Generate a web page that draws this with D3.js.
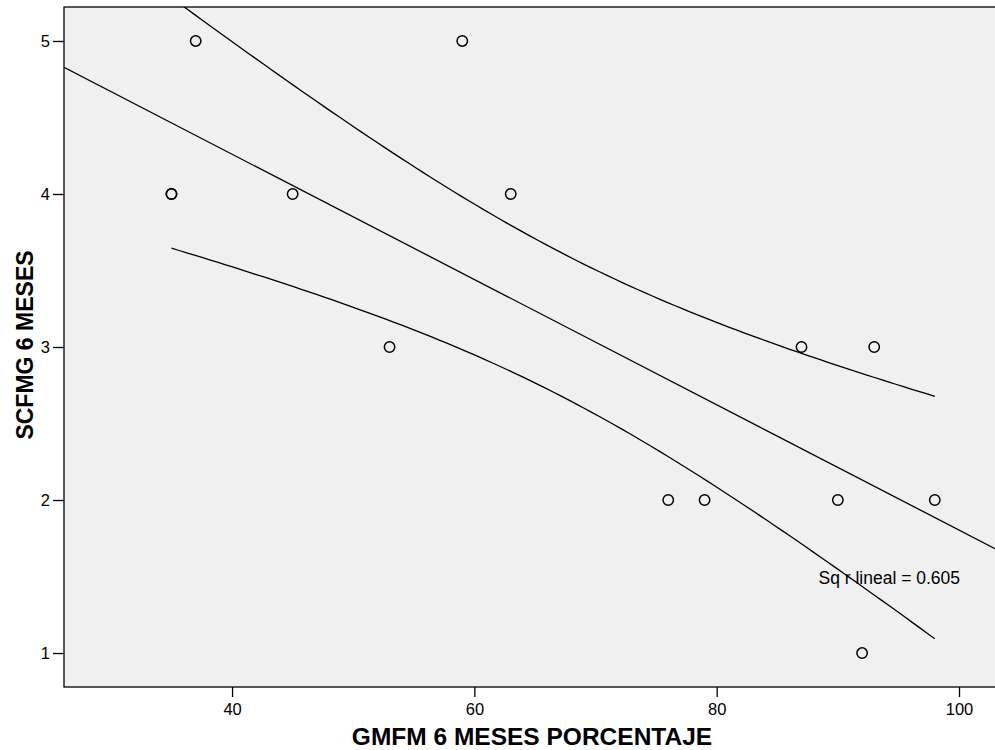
<!DOCTYPE html>
<html>
<head>
<meta charset="utf-8">
<script src="https://cdn.jsdelivr.net/npm/d3@7"></script>
<style>
  body { margin: 0; background: #fff; }
  svg { display: block; font-family: "Liberation Sans", Arial, sans-serif; }
</style>
</head>
<body>
<svg id="chart"></svg>
<script>
// GMFM 6 meses (%) vs SCFMG 6 meses
const gmfm  = [37, 59, 35, 35, 45, 63, 53, 87, 93, 76, 79, 90, 98, 92];
const scfmg = [5, 5, 4, 4, 4, 4, 3, 3, 3, 2, 2, 2, 2, 1];
const xTicks = [40, 60, 80, 100];
const yTicks = [1, 2, 3, 4, 5];
const tCrit = 2.179; // t(0.975, 12)

const width = 995;
const height = 750;
const margin = {top: 7, right: 0, bottom: 63, left: 64};

const svg = d3.select("#chart")
    .attr("width", width)
    .attr("height", height);

const x = d3.scaleLinear()
    .domain([26.13, 102.97])
    .range([margin.left, width - margin.right]);

const y = d3.scaleLinear()
    .domain([0.778, 5.222])
    .range([height - margin.bottom, margin.top]);

// least squares fit + 95% mean confidence band
const n = gmfm.length;
const mx = d3.mean(gmfm), my = d3.mean(scfmg);
const sxx = d3.sum(gmfm, d => (d - mx) * (d - mx));
const sxy = d3.sum(gmfm, (d, i) => (d - mx) * (scfmg[i] - my));
const slope = sxy / sxx;
const icpt = my - slope * mx;
const sse = d3.sum(gmfm, (d, i) => Math.pow(scfmg[i] - (icpt + slope * d), 2));
const s = Math.sqrt(sse / (n - 2));
const syy = d3.sum(scfmg, d => (d - my) * (d - my));
const r2 = (sxy * sxy) / (sxx * syy);

const fit = xv => icpt + slope * xv;
const half = xv => tCrit * s * Math.sqrt(1 / n + (xv - mx) * (xv - mx) / sxx);

const xmin = d3.min(gmfm), xmax = d3.max(gmfm);
const bandX = d3.range(0, 101).map(i => xmin + (xmax - xmin) * i / 100);

svg.append("defs").append("clipPath").attr("id", "plot")
  .append("rect")
    .attr("x", margin.left).attr("y", margin.top)
    .attr("width", width - margin.left - margin.right)
    .attr("height", height - margin.top - margin.bottom);

svg.append("rect")
    .attr("x", margin.left).attr("y", margin.top)
    .attr("width", width - margin.left - margin.right + 2)
    .attr("height", height - margin.top - margin.bottom)
    .attr("fill", "#f0f0f0")
    .attr("stroke", "#000")
    .attr("stroke-width", 1.3);

const view = svg.append("g").attr("clip-path", "url(#plot)");

const line = d3.line().x(d => x(d[0])).y(d => y(d[1]));

view.append("path")
    .datum(x.domain().map(d => [d, fit(d)]))
    .attr("d", line)
    .attr("fill", "none").attr("stroke", "#000").attr("stroke-width", 1.3);

view.append("path")
    .datum(bandX.map(d => [d, fit(d) + half(d)]))
    .attr("d", line)
    .attr("fill", "none").attr("stroke", "#000").attr("stroke-width", 1.3);

view.append("path")
    .datum(bandX.map(d => [d, fit(d) - half(d)]))
    .attr("d", line)
    .attr("fill", "none").attr("stroke", "#000").attr("stroke-width", 1.3);

view.selectAll("circle")
    .data(gmfm)
    .enter()
    .append("circle")
    .attr("cx", d => x(d))
    .attr("cy", (d, i) => y(scfmg[i]))
    .attr("r", 5.2)
    .attr("fill", "none")
    .attr("stroke", "#000")
    .attr("stroke-width", 1.5);

view.append("text")
    .attr("x", x(88.4))
    .attr("y", 584)
    .style("font-size", "17.5px")
    .text("Sq r lineal = " + r2.toFixed(3));

// axes
const xAxis = svg.append("g")
    .attr("transform", `translate(0,${height - margin.bottom})`)
    .call(d3.axisBottom(x).tickValues(xTicks).tickFormat(d3.format("d"))
        .tickSize(10).tickPadding(6));

const yAxis = svg.append("g")
    .attr("transform", `translate(${margin.left},0)`)
    .call(d3.axisLeft(y).tickValues(yTicks).tickFormat(d3.format("d"))
        .tickSize(11).tickPadding(3));

[xAxis, yAxis].forEach(a => {
    a.attr("font-size", null).attr("font-family", null);
    a.select(".domain").remove();
    a.selectAll("line").attr("stroke", "#000").attr("stroke-width", 1.3);
    a.selectAll("text").style("font-size", "16.5px").attr("fill", "#000");
});

svg.append("text")
    .attr("x", 532)
    .attr("y", 745)
    .attr("text-anchor", "middle")
    .style("font-size", "24.5px")
    .attr("font-weight", "bold")
    .text("GMFM 6 MESES PORCENTAJE");

svg.append("text")
    .attr("transform", `translate(33,345) rotate(-90)`)
    .attr("text-anchor", "middle")
    .style("font-size", "23px")
    .attr("font-weight", "bold")
    .text("SCFMG 6 MESES");
</script>
</body>
</html>
